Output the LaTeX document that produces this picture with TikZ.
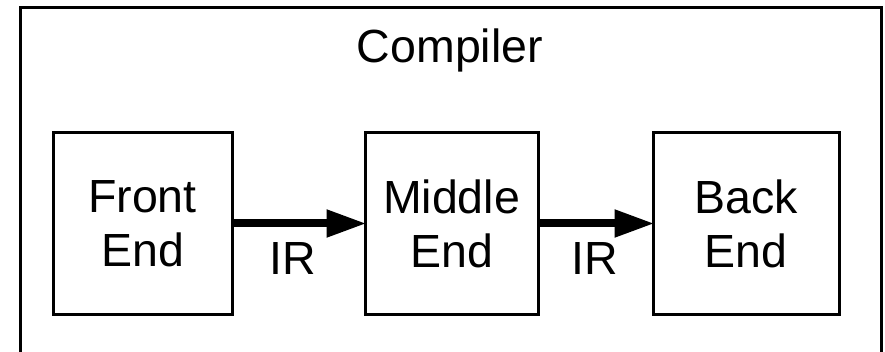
\documentclass[tikz,border=0pt]{standalone}
\usepackage{fontspec}
\setmainfont{Liberation Sans}
\usetikzlibrary{arrows.meta}
\begin{document}
\begin{tikzpicture}[x=1pt,y=1pt,
  stagebox/.style={draw, line width=3pt, align=center, inner sep=0pt, outer sep=0pt,
    font=\fontsize{46.5}{54}\selectfont, minimum height=182pt},
  lbl/.style={anchor=base, inner sep=0pt, font=\fontsize{46.5}{54}\selectfont},
  flow/.style={line width=8pt, -{Triangle[length=40pt,width=26pt]}, shorten >=-1.5pt}
]
\useasboundingbox (0,0) rectangle (885,-352);
\draw[line width=3pt] (20,-8) rectangle (881,-380);
\node[lbl] (title) at (450,-63) {Compiler};
\node[stagebox, minimum width=179pt] (fe) at (142.5,-223.5) {Front\\End};
\node[stagebox, minimum width=173pt] (me) at (451.5,-223.5) {Middle\\End};
\node[stagebox, minimum width=186pt] (be) at (746,-223.5) {Back\\End};
\draw[flow] (fe.east) -- (me.west);
\draw[flow] (me.east) -- (be.west);
\node[lbl] (ir1) at (292.5,-275) {IR};
\node[lbl] (ir2) at (595,-275) {IR};
\end{tikzpicture}
\end{document}
